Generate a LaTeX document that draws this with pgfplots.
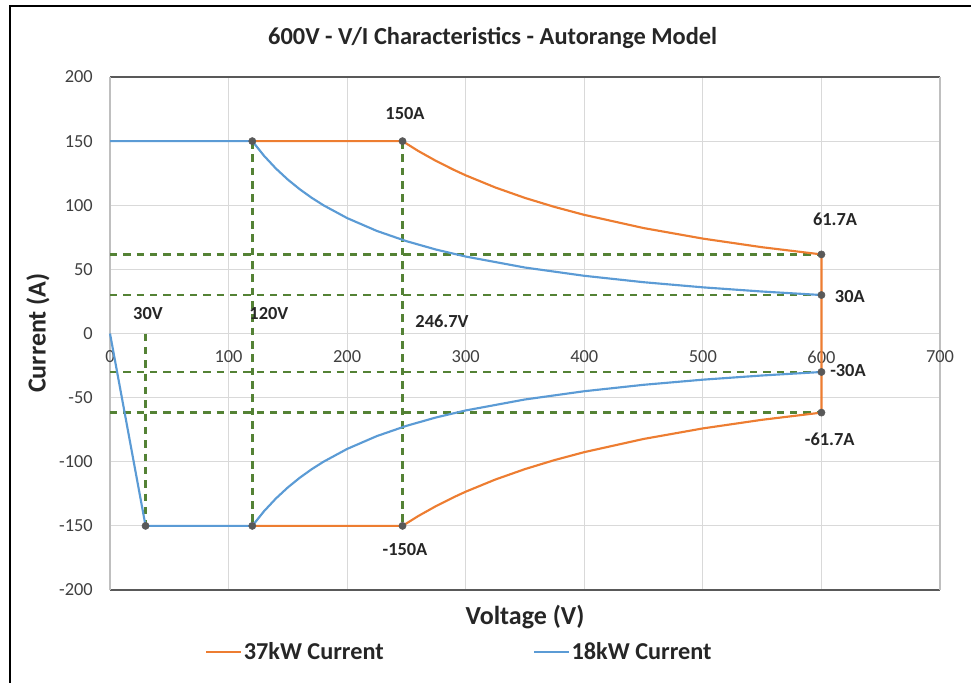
\documentclass[border=0pt]{standalone}
\usepackage{pgfplots}
\pgfplotsset{compat=1.18}
\usepackage{fontspec}
\setmainfont{Carlito}
\definecolor{orng}{HTML}{ED7D31}
\definecolor{blu}{HTML}{5B9BD5}
\definecolor{grn}{HTML}{548235}
\definecolor{mrk}{HTML}{595959}
\definecolor{gridc}{HTML}{D9D9D9}
\definecolor{axdark}{HTML}{595959}
\definecolor{axlight}{HTML}{BFBFBF}
\definecolor{txt}{HTML}{262626}
\definecolor{tickc}{HTML}{404040}
\begin{document}
\begin{tikzpicture}
\path[use as bounding box] (0pt,0pt) rectangle (728.25pt,-511.5pt);
\draw[line width=1.5pt] (7.2pt,-600pt) -- (7.2pt,-4.5pt) -- (800pt,-4.5pt);
\begin{axis}[
 at={(82.5pt,-442.5pt)}, anchor=south west,
 scale only axis, width=622.5pt, height=384.75pt,
 xmin=0, xmax=700, ymin=-200, ymax=200,
 xtick={0,100,...,700}, ytick={-200,-150,...,200},
 grid=major, grid style={draw=gridc, line width=0.75pt},
 major tick length=0pt,
 separate axis lines,
 x axis line style={draw=axdark, line width=1.1pt},
 y axis line style={draw=axlight, line width=0.9pt},
 tick label style={font=\fontsize{13.8}{16}\selectfont, text=tickc},
 xticklabel style={anchor=center, yshift=174.75pt},
 yticklabel style={anchor=east, inner sep=0pt, xshift=-12.75pt},
 /pgf/number format/assume math mode=true,
 clip=false,
 legend columns=2,
 legend style={at={(axis description cs:0.1145,-0.1209)}, anchor=west, draw=none, fill=none, inner sep=0pt,
   font=\bfseries\fontsize{18.2}{20}\selectfont, text=txt, nodes={inner sep=1pt},
   /tikz/every even column/.append style={column sep=111pt}},
 legend image code/.code={\draw[#1] (0pt,0pt) -- (26.25pt,0pt);},
]
% guide lines
\addplot[grn, dashed, line width=2pt, dash pattern=on 5.6pt off 4.4pt, forget plot] coordinates {(0,61.67) (600,61.67)};
\addplot[grn, dashed, line width=2pt, dash pattern=on 5.6pt off 4.4pt, forget plot] coordinates {(0,30) (600,30)};
\addplot[grn, dashed, line width=2pt, dash pattern=on 5.6pt off 4.4pt, forget plot] coordinates {(0,-30) (600,-30)};
\addplot[grn, dashed, line width=2pt, dash pattern=on 5.6pt off 4.4pt, forget plot] coordinates {(0,-61.67) (600,-61.67)};
\addplot[grn, dashed, line width=2pt, dash pattern=on 5.6pt off 4.4pt, forget plot] coordinates {(30,0) (30,-150)};
\addplot[grn, dashed, line width=2pt, dash pattern=on 5.6pt off 4.4pt, forget plot] coordinates {(120,150) (120,-150)};
\addplot[grn, dashed, line width=2pt, dash pattern=on 5.6pt off 4.4pt, forget plot] coordinates {(246.7,150) (246.7,-150)};
% 37 kW
\addplot[orng, line width=1.6pt, no marks] coordinates {
(120,150) (246.7,150) (260,142.31) (275,134.55) (290,127.59) (300,123.33) (325,113.85) (350,105.71) (375,98.67) (400,92.5)
(450,82.22) (500,74) (550,67.27) (600,61.67)
(600,-61.67) (550,-67.27) (500,-74) (450,-82.22) (400,-92.5) (375,-98.67) (350,-105.71) (325,-113.85) (300,-123.33)
(290,-127.59) (275,-134.55) (260,-142.31) (246.7,-150) (120,-150)};
\addlegendentry{37kW Current}
% 18 kW
\addplot[blu, line width=1.6pt, no marks] coordinates {
(0,150) (120,150) (130,138.46) (140,128.57) (150,120) (160,112.5) (170,105.88) (180,100) (200,90) (225,80) (250,72)
(275,65.45) (300,60) (350,51.43) (400,45) (450,40) (500,36) (550,32.73) (600,30)};
\addlegendentry{18kW Current}
\addplot[blu, line width=1.6pt, no marks, forget plot] coordinates {
(0,0) (30,-150) (120,-150) (130,-138.46) (140,-128.57) (150,-120) (160,-112.5) (170,-105.88) (180,-100) (200,-90) (225,-80) (250,-72)
(275,-65.45) (300,-60) (350,-51.43) (400,-45) (450,-40) (500,-36) (550,-32.73) (600,-30)};
% markers
\addplot[only marks, mark=*, mark size=2.7pt, mrk, forget plot] coordinates {
(120,150) (246.7,150) (600,61.67) (600,30) (600,-30) (600,-61.67) (30,-150) (120,-150) (246.7,-150)};
% data labels
\begin{scope}[every node/.style={font=\bfseries\fontsize{13.8}{15}\selectfont, text=txt, inner sep=0pt}]
\node at (axis cs:248.8,171.5) {150A};
\node at (axis cs:611.5,88.9) {61.7A};
\node at (axis cs:624,28.9) {30A};
\node at (axis cs:622.4,-28.9) {-30A};
\node at (axis cs:607,-82.7) {-61.7A};
\node at (axis cs:248.8,-168.4) {-150A};
\node at (axis cs:32,15.6) {30V};
\node at (axis cs:134,15.6) {120V};
\node at (axis cs:280,9.4) {246.7V};
\end{scope}
\end{axis}
\node[font=\bfseries\fontsize{18.3}{20}\selectfont, text=txt] at (369.5pt,-28.5pt) {600V - V/I Characteristics - Autorange Model};
\node[font=\bfseries\fontsize{19.5}{21}\selectfont, text=txt] at (393.75pt,-462.75pt) {Voltage (V)};
\node[font=\bfseries\fontsize{19.5}{21}\selectfont, text=txt, rotate=90] at (28.5pt,-249.75pt) {Current (A)};
\end{tikzpicture}
\end{document}
